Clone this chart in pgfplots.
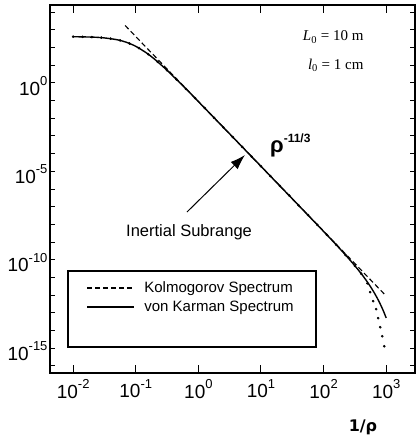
\documentclass[border=0pt]{standalone}
\usepackage{pgfplots}
\pgfplotsset{compat=1.18}
\usepackage{fontspec}
\setmainfont{Liberation Sans}
\newfontfamily\timesfont{Liberation Serif}
\newfontfamily\dejavu{DejaVu Sans}
\usetikzlibrary{arrows.meta}
\newcommand{\tp}[1]{10\raisebox{0.5em}{\fontsize{13}{13}\selectfont #1}}
\begin{document}
\begin{tikzpicture}
\useasboundingbox (0,0) rectangle (417pt,437pt);
\begin{axis}[
  at={(50pt,64pt)}, anchor=south west,
  scale only axis, width=365pt, height=368pt,
  xmode=log, ymode=log,
  xmin=0.004266, xmax=2884,
  ymin=3.98e-17, ymax=25119,
  axis line style={line width=1.5pt},
  every tick/.style={black, line width=1pt},
  xtick style={/pgfplots/major tick length=8pt},
  ytick style={/pgfplots/major tick length=5pt},
  minor tick length=5pt,
  xminorticks=false,
  xtick={1e-2,1e-1,1,10,100,1000},
  xticklabels={\tp{-2},\tp{-1},\tp{0},\tp{1},\tp{2},\tp{3}},
  ytick={1,1e-5,1e-10,1e-15},
  yticklabels={\tp{0},\tp{-5},\tp{-10},\tp{-15}},
  minor ytick={1e4,1e3,1e2,1e1,1e-1,1e-2,1e-3,1e-4,1e-6,1e-7,1e-8,1e-9,1e-11,1e-12,1e-13,1e-14,1e-16},
  tick label style={font=\fontsize{19}{22}\selectfont},
  xticklabel style={yshift=-3pt},
  yticklabel style={yshift=-3pt, xshift=1pt},
  xlabel={1/ρ},
  xlabel style={at={(axis description cs:0.8575,-0.1467)}, anchor=center, inner sep=0pt, font=\dejavu\bfseries\fontsize{16}{19}\selectfont},
  legend style={at={(axis description cs:0.100,0.252)}, anchor=north west, draw=none, fill=none,
    inner sep=0pt, outer sep=0pt, font=\fontsize{15}{17}\selectfont, row sep=4pt, column sep=8pt,
    nodes={inner sep=1.5pt}},
  legend cell align=left,
  legend image code/.code={\draw[#1] (0pt,0pt) -- (47pt,0pt);},
]
% Kolmogorov spectrum
\addplot[black, line width=1.1pt, dash pattern=on 5pt off 3pt] coordinates {
  (0.0676,1738) (1000,8.913e-13)
};
\addlegendentry{Kolmogorov Spectrum}
% von Karman spectrum
\addplot[black, line width=1.4pt, smooth] coordinates {
  (0.01,406.1) (0.02,384.9) (0.03,353.2) (0.05,274.8) (0.07,199.1) (0.1,116.1)
  (0.15,47.64) (0.2,21.63) (0.3,6.067) (0.5,1.053) (0.7,0.3177) (1,0.0875)
  (10,1.919e-5) (100,4.018e-9) (200,2.904e-10) (300,5.702e-11) (400,1.626e-11)
  (500,5.546e-12) (600,2.075e-12) (700,8.147e-13) (800,3.251e-13) (900,1.300e-13)
  (1000,5.140e-14)
};
\addlegendentry{von Karman Spectrum}
% modified spectrum (dots)
\addplot[black, only marks, mark=*, mark size=1.1pt, forget plot] coordinates {
  (0.01,406.1) (0.014125,398.9) (0.019953,385.1) (0.028184,359.5) (0.039811,315.9)
  (0.056234,250.0) (0.079433,168.8) (0.112202,92.88) (0.158489,41.35) (0.223872,15.43)
  (0.316228,5.099) (0.446684,1.5646) (0.630957,0.4608) (0.891251,0.1329)
  (1.258925,0.03787) (1.778279,0.01073) (2.511886,3.035e-3) (3.548134,8.563e-4)
  (5.011872,2.415e-4) (7.079458,6.812e-5) (10,1.919e-5) (14.12538,5.409e-6)
  (19.95262,1.523e-6) (28.18383,4.289e-7) (39.81072,1.206e-7) (56.23413,3.384e-8)
  (79.43282,9.452e-9) (112.2018,2.616e-9) (158.4893,7.115e-10) (223.8721,1.867e-10)
  (316.2278,4.564e-11) (398.1072,1.661e-11) (501.1872,4.677e-12) (554.6,1.479e-12)
  (619.4,4.571e-13) (691.8,1.622e-13) (744.7,5.012e-14) (801.8,1.549e-14)
  (863.0,4.786e-15) (929.0,1.288e-15)
};
% legend frame
\draw[line width=1.1pt] (axis description cs:0.0493,0.0707) rectangle (axis description cs:0.7288,0.2772);
% annotations
\node[anchor=east, font=\timesfont\fontsize{15}{17}\selectfont] at (axis description cs:0.8685,0.913) {\textit{L}\textsubscript{0} = 10 m};
\node[anchor=east, font=\timesfont\fontsize{15}{17}\selectfont] at (axis description cs:0.8685,0.837) {\textit{l}\textsubscript{0} = 1 cm};
\node[anchor=base west, inner sep=0pt, font=\bfseries\fontsize{22}{24}\selectfont] at (axis description cs:0.6027,0.6005) {ρ\raisebox{0.45em}{\fontsize{12}{12}\selectfont -11/3}};
\node[font=\fontsize{16.5}{19}\selectfont] at (axis description cs:0.381,0.383) {Inertial Subrange};
\draw[line width=1pt, -{Latex[length=15pt,width=10pt]}] (axis description cs:0.3753,0.4375) -- (axis description cs:0.5342,0.5924);
\end{axis}
\end{tikzpicture}
\end{document}
